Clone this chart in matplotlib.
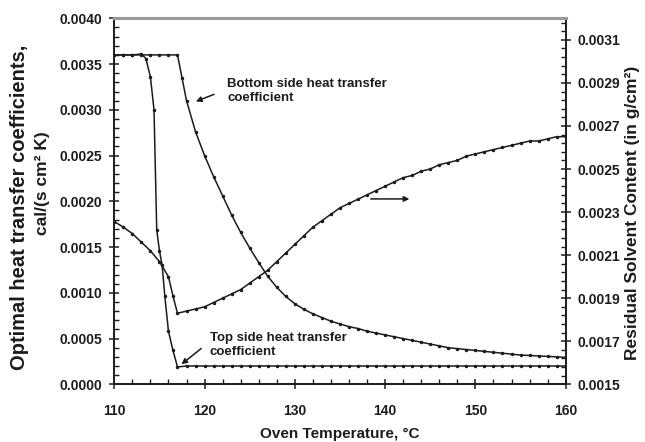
import matplotlib
matplotlib.use('Agg')
import matplotlib.pyplot as plt
from matplotlib.ticker import MultipleLocator, FixedLocator, AutoMinorLocator, FormatStrFormatter

plt.rcParams['font.family'] = ['Liberation Sans', 'DejaVu Sans']
plt.rcParams['font.weight'] = 'bold'

# ---- data ----
temp_top = [110, 111, 112, 113, 113.5, 114, 114.4, 114.7, 115, 115.3, 115.6, 116, 116.5, 117,
            118, 119, 120, 121, 122, 123, 124, 125, 126, 127, 128, 129, 130, 131, 132, 133, 134,
            135, 136, 137, 138, 139, 140, 141, 142, 143, 144, 145, 146, 147, 148, 149, 150, 151,
            152, 153, 154, 155, 156, 157, 158, 159, 160]
h_top = [0.0036, 0.0036, 0.0036, 0.00361, 0.00356, 0.00336, 0.0030, 0.00169, 0.00146, 0.00130,
         0.00096, 0.00058, 0.00037, 0.00019,
         0.0002, 0.0002, 0.0002, 0.0002, 0.0002, 0.0002, 0.0002, 0.0002, 0.0002, 0.0002, 0.0002,
         0.0002, 0.0002, 0.0002, 0.0002, 0.0002, 0.0002, 0.0002, 0.0002, 0.0002, 0.0002, 0.0002,
         0.0002, 0.0002, 0.0002, 0.0002, 0.0002, 0.0002, 0.0002, 0.0002, 0.0002, 0.0002, 0.0002,
         0.0002, 0.0002, 0.0002, 0.0002, 0.0002, 0.0002, 0.0002, 0.0002, 0.0002, 0.0002]

temp_bottom = [110, 111, 112, 113, 114, 115, 116, 117, 117.5, 118, 119, 120, 121, 122, 123, 124,
               125, 126, 127, 128, 129, 130, 131, 132, 133, 134, 135, 136, 137, 138, 139, 140,
               141, 142, 143, 144, 145, 146, 147, 148, 149, 150, 151, 152, 153, 154, 155, 156,
               157, 158, 159, 160]
h_bottom = [0.0036, 0.0036, 0.0036, 0.0036, 0.0036, 0.0036, 0.0036, 0.0036, 0.00335, 0.00310,
            0.00276, 0.00250, 0.00227, 0.00206, 0.00185, 0.00166, 0.00149, 0.00133, 0.00118,
            0.00106, 0.00096, 0.00088, 0.00082, 0.00077, 0.00073, 0.00069, 0.00066, 0.00063,
            0.00061, 0.00058, 0.00056, 0.00054, 0.00052, 0.00050, 0.00048, 0.00046, 0.00044,
            0.00042, 0.00040, 0.00039, 0.00038, 0.00037, 0.00036, 0.00035, 0.00034, 0.00033,
            0.00032, 0.000315, 0.00031, 0.000305, 0.00030, 0.000295]

temp_res = [110, 111, 112, 113, 114, 115, 116, 116.5, 117, 118, 119, 120, 121, 122, 123, 124,
            125, 126, 127, 128, 129, 130, 131, 132, 133, 134, 135, 136, 137, 138, 139, 140, 141,
            142, 143, 144, 145, 146, 147, 148, 149, 150, 151, 152, 153, 154, 155, 156, 157, 158,
            159, 160]
residual = [0.002256, 0.00223, 0.00220, 0.00216, 0.00212, 0.00207, 0.00200, 0.00191, 0.00183,
            0.00184, 0.00185, 0.00186, 0.00188, 0.00190, 0.00192, 0.00194, 0.00197, 0.00200,
            0.00203, 0.00207, 0.00211, 0.00215, 0.00219, 0.00223, 0.00226, 0.00229, 0.00232,
            0.00234, 0.00236, 0.00238, 0.00240, 0.00242, 0.00244, 0.00246, 0.00247, 0.00249,
            0.00250, 0.00252, 0.00253, 0.00254, 0.00256, 0.00257, 0.00258, 0.00259, 0.00260,
            0.00261, 0.00262, 0.00263, 0.00263, 0.00264, 0.00265, 0.00265]

x_ticks = [110, 120, 130, 140, 150, 160]
right_ticks = [0.0015, 0.0017, 0.0019, 0.0021, 0.0023, 0.0025, 0.0027, 0.0029, 0.0031]

# ---- figure ----
ink = '#1c1c1c'
fig = plt.figure(figsize=(6.45, 4.42), dpi=100)
ax = fig.add_axes([0.1772, 0.1305, 0.6998, 0.8281])
ax2 = ax.twinx()

style = dict(color=ink, lw=1.1, marker='o', ms=1.5, mfc=ink, mec=ink)
ax.plot(temp_top, h_top, **style)
ax.plot(temp_bottom, h_bottom, **style)
ax2.plot(temp_res, residual, **style)

ax.set_xlim(110, 160)
ax.set_ylim(0, 0.004)
ax2.set_ylim(0.0015, 0.0032)

ax.xaxis.set_major_locator(FixedLocator(x_ticks))
ax.xaxis.set_minor_locator(MultipleLocator(2))
ax.yaxis.set_major_locator(MultipleLocator(0.0005))
ax.yaxis.set_minor_locator(MultipleLocator(0.0001))
ax.yaxis.set_major_formatter(FormatStrFormatter('%.4f'))
ax2.yaxis.set_major_locator(FixedLocator(right_ticks))
ax2.yaxis.set_minor_locator(AutoMinorLocator(5))
ax2.yaxis.set_major_formatter(FormatStrFormatter('%.4f'))

for a in (ax, ax2):
    for s in ('left', 'right', 'bottom'):
        a.spines[s].set_color(ink)
        a.spines[s].set_linewidth(1.2)
    a.spines['top'].set_color('#9a9a9a')
    a.spines['top'].set_linewidth(2.2)

ax.tick_params(which='major', direction='inout', length=7, width=1.1, colors=ink,
               labelsize=10)
ax.tick_params(which='minor', direction='in', length=3.5, width=1.0, colors=ink)
ax.tick_params(axis='x', which='major', pad=11)
ax.tick_params(axis='y', which='major', pad=5)
ax2.tick_params(which='major', direction='inout', length=7, width=1.1, colors=ink,
                labelsize=10, pad=5)
ax2.tick_params(which='minor', direction='in', length=3.5, width=1.0, colors=ink)

fig.text(340 / 645, 1 - 434 / 442, 'Oven Temperature, °C', ha='center', va='center',
         fontsize=11, color=ink)
fig.text(20 / 645, 1 - 207 / 442, 'Optimal heat transfer coefficients,', rotation=90,
         ha='center', va='center', fontsize=14.5, color=ink)
fig.text(43 / 645, 1 - 183 / 442, 'cal/(s cm² K)', rotation=90,
         ha='center', va='center', fontsize=12.5, color=ink)
fig.text(632 / 645, 1 - 213 / 442, 'Residual Solvent Content (in g/cm²)', rotation=90,
         ha='center', va='center', fontsize=12.5, color=ink)

ax.annotate('', xy=(118.75, 0.00308), xytext=(121.34, 0.00318),
            arrowprops=dict(arrowstyle='-|>', color=ink, lw=1.1, mutation_scale=8))
ax.text(122.5, 0.003205, 'Bottom side heat transfer\ncoefficient', ha='left', va='center',
        fontsize=9.5, color=ink, linespacing=1.15)
ax.annotate('', xy=(117.2, 0.0002), xytext=(119.86, 0.00041),
            arrowprops=dict(arrowstyle='-|>', color=ink, lw=1.1, mutation_scale=8))
ax.text(120.6, 0.00043, 'Top side heat transfer\ncoefficient', ha='left', va='center',
        fontsize=9.5, color=ink, linespacing=1.15)
ax.annotate('', xy=(143.0, 0.002026), xytext=(138.1, 0.002026),
            arrowprops=dict(arrowstyle='-|>', color=ink, lw=1.1, mutation_scale=8))

fig.savefig('out.png', dpi=100)
